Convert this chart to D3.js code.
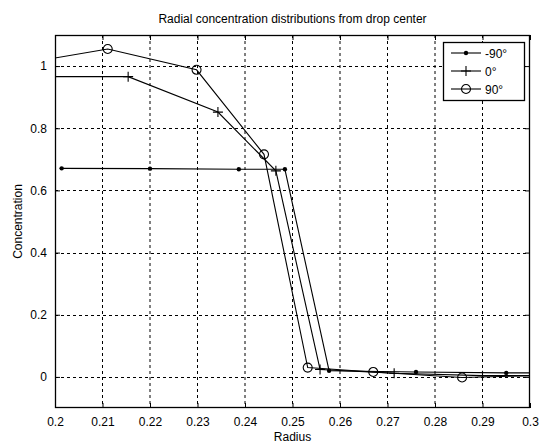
<!DOCTYPE html>
<html><head><meta charset="utf-8">
<script src="https://cdn.jsdelivr.net/npm/d3@7"></script>
<style>body{margin:0;background:#fff;} svg{display:block;} text{font-family:"Liberation Sans",Arial,sans-serif;}</style>
</head><body>
<svg id="c" width="540" height="446"></svg>
<script>
const title = "Radial concentration distributions from drop center";
const xLabel = "Radius";
const yLabel = "Concentration";
const xTicks = [0.2,0.21,0.22,0.23,0.24,0.25,0.26,0.27,0.28,0.29,0.3];
const yTicks = [0,0.2,0.4,0.6,0.8,1];
const seriesNames = ["-90°","0°","90°"];
const seriesMarkers = ["dot","plus","circle"];
const xNeg90 = [0.2014,0.2200,0.2387,0.2484,0.2577,0.2760,0.2950,0.3050];
const yNeg90 = [0.671,0.670,0.668,0.668,0.020,0.016,0.013,0.013];
const x0 = [0.1950,0.2154,0.2343,0.2465,0.2558,0.2714,0.2900,0.3050];
const y0 = [0.966,0.966,0.852,0.663,0.024,0.012,0.004,0.004];
const x90 = [0.1920,0.2111,0.2298,0.2440,0.2532,0.2670,0.2857,0.3050];
const y90 = [1.005,1.055,0.988,0.716,0.030,0.016,-0.002,0.006];

const W=540,H=446, L=55,R=530,T=35,B=408;
const svg=d3.select("#c");
const x=d3.scaleLinear().domain([0.2,0.3]).range([L,R]);
const y=d3.scaleLinear().domain([-0.1,1.1]).range([B,T]);

svg.append("defs").append("clipPath").attr("id","clip").append("rect")
  .attr("x",L).attr("y",T).attr("width",R-L).attr("height",B-T);

// grid
const g=svg.append("g");
g.selectAll(".gx").data(xTicks.slice(1,-1)).enter().append("line")
  .attr("x1",d=>x(d)).attr("x2",d=>x(d)).attr("y1",T).attr("y2",B)
  .attr("stroke","#000").attr("stroke-dasharray","3,3").attr("stroke-width",1);
g.selectAll(".gy").data(yTicks).enter().append("line")
  .attr("y1",d=>Math.round(y(d))+0.5).attr("y2",d=>Math.round(y(d))+0.5).attr("x1",L).attr("x2",R)
  .attr("stroke","#000").attr("stroke-dasharray","3,3").attr("stroke-width",1);

// axes
const fmt=d=>d3.format("")(+d.toFixed(2));
const ax=svg.append("g").attr("transform",`translate(0,${B})`)
  .call(d3.axisBottom(x).tickValues(xTicks).tickSize(-5).tickPadding(9).tickFormat(d=>String(+d.toFixed(2))));
const axT=svg.append("g").attr("transform",`translate(0,${T})`)
  .call(d3.axisTop(x).tickValues(xTicks).tickSize(-5).tickFormat(""));
const ay=svg.append("g").attr("transform",`translate(${L},0)`)
  .call(d3.axisLeft(y).tickValues(yTicks).tickSize(-5).tickPadding(8).tickFormat(d=>String(+d.toFixed(1))));
const ayR=svg.append("g").attr("transform",`translate(${R},0)`)
  .call(d3.axisRight(y).tickValues(yTicks).tickSize(-5).tickFormat(""));
[ax,axT,ay,ayR].forEach(a=>{a.select(".domain").remove();a.selectAll("line").attr("stroke","#000");
  a.selectAll("text").attr("font-size",12).attr("fill","#000");});
svg.append("rect").attr("x",L+0.5).attr("y",T+0.5).attr("width",R-L-1).attr("height",B-T-1)
  .attr("fill","none").attr("stroke","#000").attr("stroke-width",1.3);

// series
const data=[d3.zip(xNeg90,yNeg90),d3.zip(x0,y0),d3.zip(x90,y90)];
const line=d3.line().x(d=>x(d[0])).y(d=>y(d[1]));
const plot=svg.append("g").attr("clip-path","url(#clip)");
function marker(sel,type){
  if(type==="dot") sel.append("circle").attr("r",2.2).attr("fill","#000");
  else if(type==="plus"){sel.append("path").attr("d","M-5,0H5M0,-5V5").attr("stroke","#000").attr("stroke-width",1.1);}
  else sel.append("circle").attr("r",4.5).attr("fill","none").attr("stroke","#000").attr("stroke-width",1.1);
}
data.forEach((d,i)=>{
  plot.append("path").attr("d",line(d)).attr("fill","none").attr("stroke","#000").attr("stroke-width",1.1);
  d.filter(p=>p[0]>=0.2&&p[0]<=0.3).forEach(p=>{
    const m=plot.append("g").attr("transform",`translate(${x(p[0])},${y(p[1])})`);
    marker(m,seriesMarkers[i]);
  });
});

// legend
const lg=svg.append("g");
lg.append("rect").attr("x",443.5).attr("y",42.5).attr("width",81).attr("height",58)
  .attr("fill","#fff").attr("stroke","#000").attr("stroke-width",1.3);
seriesNames.forEach((n,i)=>{
  const yy=53+i*18;
  lg.append("line").attr("x1",451).attr("x2",481).attr("y1",yy).attr("y2",yy).attr("stroke","#000").attr("stroke-width",1.1);
  const m=lg.append("g").attr("transform",`translate(466,${yy})`);
  marker(m,seriesMarkers[i]);
  lg.append("text").attr("x",485).attr("y",yy+4.5).attr("font-size",12).text(n);
});

// labels
svg.append("text").attr("x",(L+R)/2).attr("y",23).attr("text-anchor","middle").attr("font-size",12).text(title);
svg.append("text").attr("x",(L+R)/2).attr("y",441).attr("text-anchor","middle").attr("font-size",12).text(xLabel);
svg.append("text").attr("transform",`translate(22,${(T+B)/2}) rotate(-90)`).attr("text-anchor","middle").attr("font-size",12).text(yLabel);
</script>
</body></html>
